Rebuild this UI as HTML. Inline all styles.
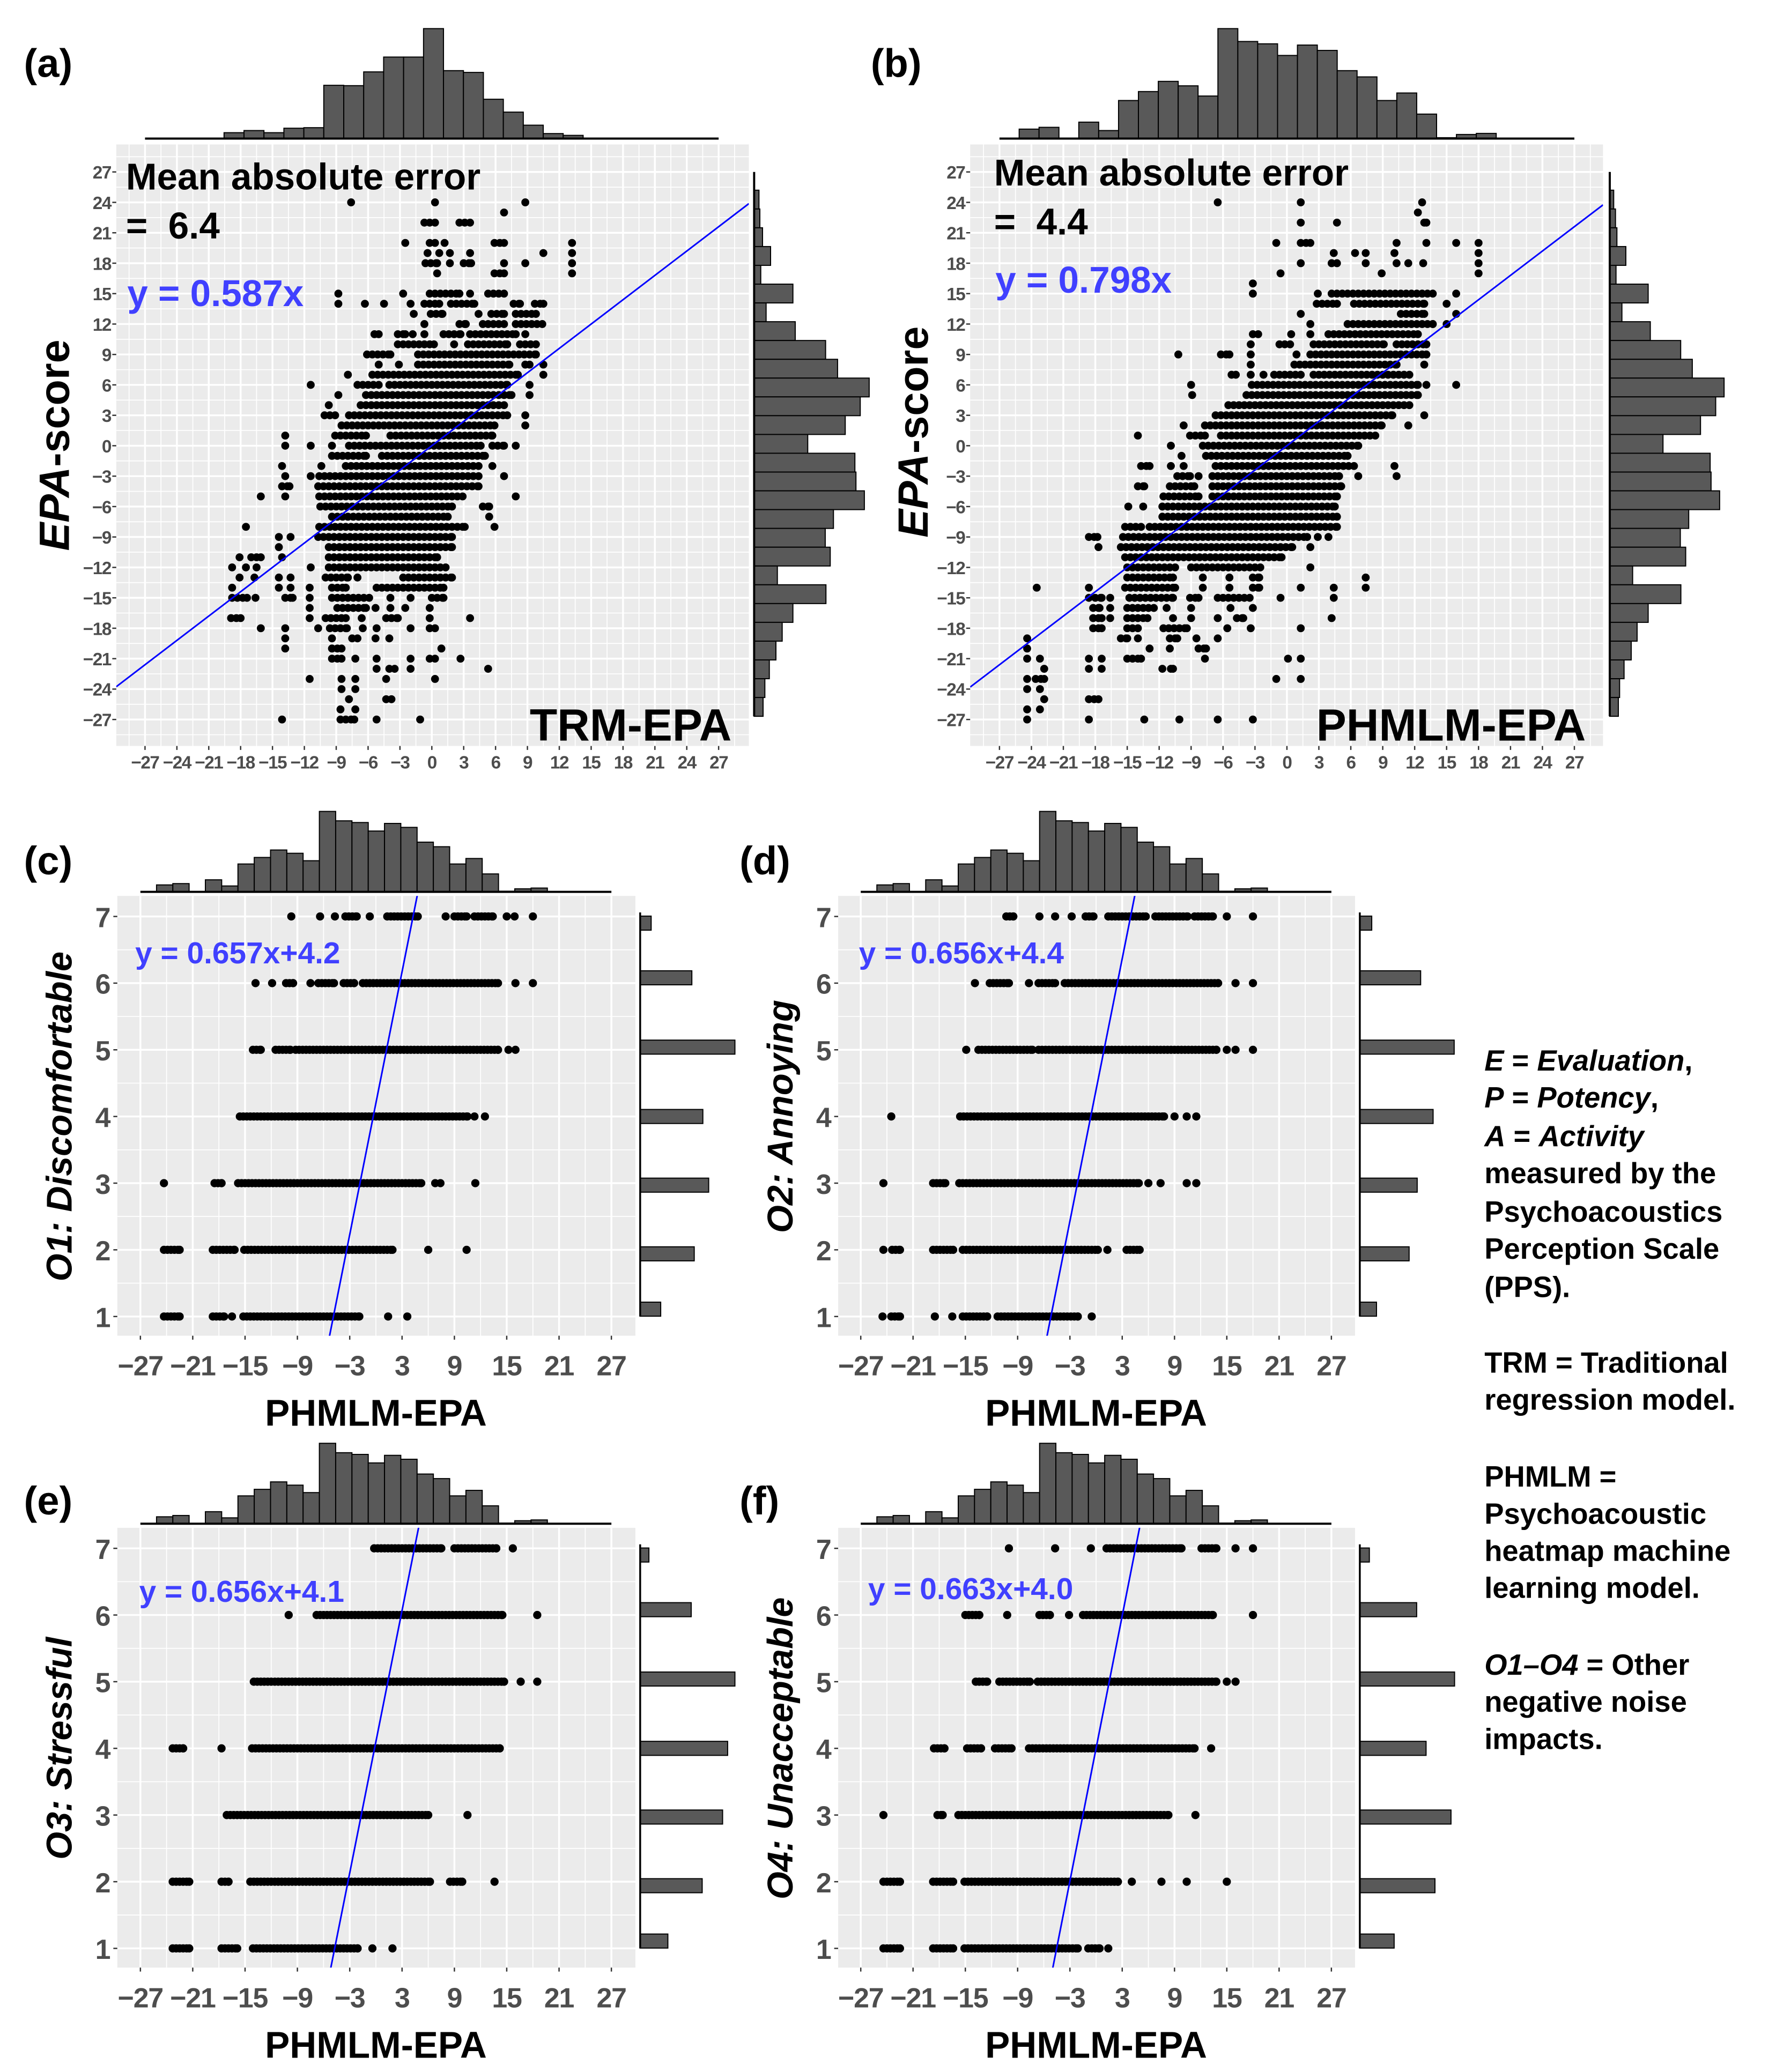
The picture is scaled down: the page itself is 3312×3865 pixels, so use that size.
<!DOCTYPE html>
<html><head><meta charset="utf-8">
<style>
html,body{margin:0;padding:0;background:#fff;}
svg{display:block;font-family:"Liberation Sans",Arial,sans-serif;}
</style></head>
<body>
<svg id="fig" xmlns="http://www.w3.org/2000/svg" width="3312" height="3865" viewBox="0 0 1340 1563.8"></svg>
<script>
// ===== DATA =====
const rowsA = [
[24,[[-7.6],[0.3],[8.8]]],[23,[[6.8]]],[22,[[-0.7,0.3],[2.6,3.6]]],
[20,[[-2.5],[-0.2,0.3],[1.2],[5.9,6.8],[13.2]]],[19,[[-0.4],[0.7],[1.7],[3.6],[10.5],[13.2]]],
[18,[[-0.6,0.5],[1.7],[3,3.7],[6.8],[8.8],[13.2]]],[17,[[0.5],[5.9,6.8],[13.2]]],
[15,[[-8.8],[-2.7],[-0.2,2.6],[3.6],[5.3,6.8]]],
[14,[[-8.8],[-6.3],[-4.5],[-2],[-0.7,0.7],[1.8,4],[7.7,8.3],[9.7,10.5]]],
[13,[[-1.7],[-0.1,1],[4.4],[5.6,6.8],[7.9,9.8]]],
[12,[[-0.7],[2.6,3.2],[4.8,6.8],[7.9,10.4]]],
[11,[[-5.4,-5],[-3.2,-2.5],[-1.8],[-0.7],[1.1,2.7],[3.6,7.9],[8.8]]],
[10,[[-3.2,0.2],[2.1],[3.4,7.1],[8.3,9.8]]],
[9,[[-6.1,-3.9],[-1.3,9.8]]],
[8,[[-5],[-3.1],[-1.3,7.3],[8.8,9.2],[10.5]]],
[7,[[-7.9],[-5.6,8.1],[10.5]]],
[6,[[-11.4],[-7,-5],[-4,7.1],[9.2]]],
[5,[[-8.8],[-6.2,7.5],[9.2]]],
[4,[[-9.7],[-6.7,6.8]]],
[3,[[-10.1,-9.1],[-7.8,7.1],[8.8]]],
[2,[[-8.5,5.9],[8.8]]],
[1,[[-13.8],[-9.1,-6.2],[-3.9,5.7]]],
[0,[[-13.8],[-11.4],[-9.4],[-7.8,4.6],[5.7,6.8],[7.9]]],
[-1,[[-9.4,-6.2],[-4.7,5]]],
[-2,[[-14.1],[-10.4],[-8.1,4.4],[5.7]]],
[-3,[[-13.8],[-11.4],[-10.6,4.4],[6.8]]],
[-4,[[-14.1,-13.4],[-10.7,4.4]]],
[-5,[[-16.1],[-13.8],[-10.6,2.9],[7.9]]],
[-6,[[-10.5,1.9],[4.8,5.4]]],
[-7,[[-9.4,1.5],[5.4]]],
[-8,[[-17.5],[-10.6,3.1],[5.9]]],
[-9,[[-14.4],[-13.3],[-10.7,1.9]]],
[-10,[[-14.4],[-9.7,1.9]]],
[-11,[[-18.1],[-17,-16.1],[-14.1],[-9.7,0.5]]],
[-12,[[-18.8],[-17.5],[-16.5],[-11.4],[-9.7,1.3]]],
[-13,[[-18.1],[-16.7],[-14.4],[-13.3],[-10,-7.9],[-7],[-2.7,1.9]]],
[-14,[[-18.8],[-14.4],[-13.3],[-11.5],[-9.4,-8.1],[-5.2,1.1]]],
[-15,[[-18.8,-17.4],[-16.6],[-13.8,-13.1],[-11.5],[-9.4,-5.9],[-3.9],[-2],[0,1.1]]],
[-16,[[-11.5],[-8.9,-6.2],[-5.3],[-3.9],[-2.5],[-0.2]]],
[-17,[[-18.9,-18],[-11.5],[-10,-8.1],[-6.6],[-4.3,-3.2],[-0.2],[3.6]]],
[-18,[[-16.1],[-13.8],[-10.7],[-9.6,-8],[-6.5],[-5.2],[-2],[-0.2,0.3]]],
[-19,[[-13.8],[-9.4],[-7.5,-7],[-5.3],[-4]]],
[-20,[[-13.8],[-9.4,-8.5],[0.9]]],
[-21,[[-9.4,-8.5],[-7.2],[-5.2],[-2],[-0.2,0.3],[2.7]]],
[-22,[[-5.2],[-4,-3.5],[-2],[5.3]]],
[-23,[[-11.5],[-8.5],[-7.2],[-4.3],[0.3]]],
[-24,[[-8.5],[-7.2]]],
[-25,[[-7.8],[-4.3,-3.8]]],
[-26,[[-8.6],[-7.2]]],
[-27,[[-14.1],[-8.6,-7.3],[-5.2],[-1.1]]]
];
const rowsB = [
[24,[[-6.5],[1.3],[12.7]]],[23,[[12.3]]],[22,[[1.3],[4.7],[12.9,13.1]]],
[20,[[-1],[1.3,2.2],[10.3],[13.1],[15.9],[18]]],
[19,[[4.4],[6.4],[7.4],[10.1],[18]]],
[18,[[1.3],[4.2,4.7],[7.4],[10.3],[11.4],[12.8],[18]]],
[17,[[-0.6],[8.9],[18]]],[16,[[-3.2]]],
[15,[[-3.2],[2.9],[4.2,13.7],[15.9]]],
[14,[[2.8,4.7],[6.3,12.9],[15]]],
[13,[[1.3],[10.7,12.9],[15.9]]],
[12,[[2.2],[5.7,13.7],[15]]],
[11,[[-3.2,-2.7],[0.4],[2.2],[3.9,12.3]]],
[10,[[-3.4],[-0.7,0.3],[2.5,9.1],[10.3,13.1]]],
[9,[[-10.2],[-6.2,-5.4],[-3.4],[0.9],[2.2,13.1]]],
[8,[[-3.4],[0.7,10.3],[12.9]]],
[7,[[-5.2,-4.8],[-3.4],[-2.2],[-1.2,1.3],[2.5,11.5]]],
[6,[[-9],[-3.3,12.3],[13.1],[15.9]]],
[5,[[-8.9],[-3.8,12.3]]],
[4,[[-5.5,11.5]]],
[3,[[-6.7,9.9],[12.9]]],
[2,[[-9.7],[-7.7,8.9],[11.4]]],
[1,[[-14],[-9.1,-7.7],[-6.2,8.3]]],
[0,[[-10.9],[-7.9,6.7]]],
[-1,[[-9.9],[-7.6,5.7]]],
[-2,[[-13.7,-12.9],[-10.9],[-9.7],[-6.7,6.3],[10.1]]],
[-3,[[-10.3,-9.1],[-8.3],[-7,4.9],[6.7],[10.3]]],
[-4,[[-14,-13.4],[-11,-8.7],[-7,5.1]]],
[-5,[[-11.6,-8.3],[-7,4.7]]],
[-6,[[-14.9],[-13.5],[-11.7,4.5]]],
[-7,[[-11.7,4.7]]],
[-8,[[-15.2,-13.7],[-12.9,4.7]]],
[-9,[[-18.6,-17.8],[-15.4,1.9],[2.9],[3.9]]],
[-10,[[-17.7],[-15.6,0.5],[2.2]]],
[-11,[[-15.2,-0.5]]],
[-12,[[-15,-10.5],[-9,-2.5],[2.2]]],
[-13,[[-15,-10.7],[-7.9],[-5.4],[-3.2,-2.6],[7.4]]],
[-14,[[-23.5],[-18.6],[-15.2,-10.5],[-7.9],[-5.4],[-3.2,-2.6],[1.3],[4.4],[7.4]]],
[-15,[[-18.6],[-18,-17.4],[-16.6],[-14.8,-10.7],[-9.1,-8.3],[-6.5,-3.5],[-0.6],[4.4]]],
[-16,[[-18.2,-17.6],[-16.6],[-15,-12.5],[-11.3],[-9],[-5.3],[-3.2]]],
[-17,[[-18.2,-17.4],[-16.6],[-15,-13.1],[-10.7],[-9],[-6.5],[-4.7,-4.1],[4.2]]],
[-18,[[-18.2,-17.4],[-15,-14],[-11.6,-9.4],[-5.6],[-3.4],[1.3]]],
[-19,[[-24.4],[-15.6,-15],[-14],[-11,-10.3],[-8.5],[-6.5]]],
[-20,[[-24.4],[-12.9],[-11],[-8.3,-7.6]]],
[-21,[[-24.4],[-23.2],[-18.6],[-17.4],[-15,-13.7],[-7.7],[0.1],[1.3]]],
[-22,[[-22.8],[-18.6],[-17.4],[-11.7],[-10.9,-10.7]]],
[-23,[[-24.4],[-23.6,-22.8],[-1],[1.3]]],
[-24,[[-24.4],[-23.2]]],
[-25,[[-22.8],[-18.6,-17.7]]],
[-26,[[-24.4],[-23.2]]],
[-27,[[-24.4],[-18.6],[-13.4],[-10.1],[-6.5],[-3.2]]]
];
const topCountsA = [33,45,33,58,61,298,296,373,456,456,615,380,370,220,148,75,28,18];
const topStartA = -19.56, topBinA = 1.878;
const topCountsB = [53,63,0,92,45,213,263,320,295,238,615,543,530,465,523,493,380,345,213,255,137,5,23,29];
const topStartB = -25.15, topBinB = 1.867;
const rightCountsA = [27,32,47,92,37,217,67,230,400,467,644,594,510,300,564,570,617,444,398,426,130,402,217,157,122,85,60,50];
const rightCountsB = [22,32,40,90,35,215,68,227,397,462,640,593,508,298,562,567,615,442,395,425,128,398,215,153,120,80,55,48];
const rightTopEdge = 25.2, rightBin = 1.853;
const slopeA = 0.8, slopeB = 0.8;
const eqA = "y = 0.587x", eqB = "y = 0.798x";
const maeA = "6.4", maeB = "4.4";
const levels = [7,6,5,4,3,2,1];
const levelCenters = [6.9,6.08,5.04,4.0,2.97,1.94,1.11];
const rowsC = [
[7,[[-9.7],[-6.4],[-4.7],[-3.5,-2.2],[-0.7],[1.3,4.8],[8],[9,10.4],[11.3,13.4],[15],[15.9],[18]]],
[6,[[-13.8],[-11.9],[-10.3,-9.5],[-7.5],[-6.6,-4.8],[-3.7,-2.5],[-1.5,14],[16],[18]]],
[5,[[-14.1,-13.2],[-11.5,-9.8],[-9.2,14],[15.2],[16]]],
[4,[[-15.6,10.5],[11.3],[12.5]]],
[3,[[-24.3],[-18.5,-17.7],[-15.8,5.2],[6.8],[7.4],[11.4]]],
[2,[[-24.3,-22.5],[-18.7,-16.2],[-15.1,1.9],[6],[10.4]]],
[1,[[-24.3,-22.5],[-18.7,-17.4],[-16.5],[-15.2,-1.9],[1.4],[3.6]]]
];
const rowsD = [
[7,[[-10.3,-9.5],[-6.5],[-4.7],[-2.8],[-1.2,-0.3],[1.4,5.7],[6.8,10.5],[11.3,13.4],[15],[18]]],
[6,[[-13.9],[-12.2,-10],[-7.7],[-6.6,-4.7],[-3.6,14],[16],[18]]],
[5,[[-14.9],[-13.5,-7.3],[-6.6,13.8],[15],[16],[18]]],
[4,[[-23.5],[-15.6,7.8],[9],[10.4],[11.5]]],
[3,[[-24.4],[-18.7,-17.3],[-15.7,4.9],[6],[7.4],[10.4],[11.5]]],
[2,[[-24.4],[-23.4,-22.5],[-18.7,-16.4],[-15.3,0.2],[1.3],[3.5,5]]],
[1,[[-24.5],[-23.5,-22.5],[-18.5],[-16.5],[-15.3,-12.5],[-11.3,-2.1],[-0.5]]]
];
const rowsE = [
[7,[[-0.2,7.5],[9,13.8],[15.7]]],
[6,[[-10],[-6.8,14.5],[18.5]]],
[5,[[-14,14.7],[16.6],[18.5]]],
[4,[[-23.3,-22.1],[-17.7],[-14.2,14.2]]],
[3,[[-17.1,6],[10.5]]],
[2,[[-23.3,-21.4],[-17.7,-16.9],[-14.4,6.2],[8.5,9.9],[13.6]]],
[1,[[-23.3,-21.4],[-17.7,-15.9],[-14.1,-2.1],[-0.4],[1.9]]]
];
const rowsF = [
[7,[[-10],[-4.7],[-0.6],[1.2,9.8],[12.1,13.8],[16],[18]]],
[6,[[-15,-13.4],[-10.2],[-6.5,-5.3],[-3.1],[-1.5,13.4],[18]]],
[5,[[-13.8,-12.5],[-11.1,-7.6],[-6.7,13.8],[15],[16]]],
[4,[[-18.6,-17.4],[-14.8,-13.2],[-11.6,-9.7],[-7.7,11.3],[13.2]]],
[3,[[-24.4],[-18.2,-17.6],[-15.8,8.3],[11.4]]],
[2,[[-24.4,-22.5],[-18.7,-16.4],[-15.1,2.5],[4.1],[7.5],[10.4],[15]]],
[1,[[-24.4,-22.5],[-18.7,-16.4],[-15.1,-2.1],[-0.9,0.4],[1.4]]]
];
const rightCountsC = [8.3,39,71.5,47.3,51.7,40.8,15.5];
const rightCountsD = [9,45.9,71.2,55.3,43.3,37.2,12.6];
const rightCountsE = [6.6,38.5,71.5,66,62.2,46.8,20.9];
const rightCountsF = [7.2,42.9,71.5,50,68.8,56.7,25.9];
const slopesSub = [0.657,0.656,0.656,0.663];
const interceptsSub = [4.2,4.4,4.1,4.0];
const eqSub = ["y = 0.657x+4.2","y = 0.656x+4.4","y = 0.656x+4.1","y = 0.663x+4.0"];
const mainTicks = [-27,-24,-21,-18,-15,-12,-9,-6,-3,0,3,6,9,12,15,18,21,24,27];
const subXTicks = [-27,-21,-15,-9,-3,3,9,15,21,27];

// ===== DRAWING =====
const NS = 'http://www.w3.org/2000/svg';
const svg = document.getElementById('fig');
function mk(tag, attrs, parent) {
  const e = document.createElementNS(NS, tag);
  for (const k in attrs) e.setAttribute(k, attrs[k]);
  (parent || svg).appendChild(e);
  return e;
}
function lab(v){ return v < 0 ? '\u2212' + Math.abs(v) : String(v); }
let clipId = 0;

function mainPanel(c) {
  const g = mk('g', {});
  
  
  const X = v => c.xz + v * c.xs;
  const Y = v => c.yz - v * c.ys;
  const bg = mk('rect', {x:c.gx0, y:c.gy0, width:c.gx1-c.gx0, height:c.gy1-c.gy0, fill:'#ebebeb'}, g);
  
  
  for (let v = -28.5; v <= 28.6; v += 1.5) {
    const major = Math.abs(v % 3) < 0.01;
    const gl = mk('line', {x1:X(v), x2:X(v), y1:c.gy0, y2:c.gy1, stroke:'#fff', 'stroke-width': major?1.4:0.7}, g);
    
    
    const gh = mk('line', {x1:c.gx0, x2:c.gx1, y1:Y(v), y2:Y(v), stroke:'#fff', 'stroke-width': major?1.4:0.7}, g);
    
    
  }
  mainTicks.forEach(t => {
    mk('line', {x1:X(t), x2:X(t), y1:c.gy1, y2:c.gy1+3, stroke:'#333', 'stroke-width':1}, g);
    const tx = mk('text', {x:X(t), y:c.gy1+17, 'text-anchor':'middle', 'font-size':13.5, 'font-weight':'bold', fill:'#4d4d4d', 'letter-spacing':'-0.6'}, g);
    tx.textContent = lab(t);
    
    
    mk('line', {x1:c.gx0-3, x2:c.gx0, y1:Y(t), y2:Y(t), stroke:'#333', 'stroke-width':1}, g);
    const ty = mk('text', {x:c.gx0-4, y:Y(t)+5, 'text-anchor':'end', 'font-size':13.5, 'font-weight':'bold', fill:'#4d4d4d', 'letter-spacing':'-0.6'}, g);
    ty.textContent = lab(t);
    
    
  });
  c.rows.forEach(r => {
    const yv = r[0];
    r[1].forEach(s => {
      const a = s[0], b = s.length > 1 ? s[1] : s[0];
      for (let xv = a; xv <= b + 0.001; xv += 0.5) {
        const p = mk('circle', {cx:X(Math.min(xv,b)), cy:Y(yv), r:3, fill:'#000'}, g);
        
        
      }
      if (b > a && ((b - a) % 0.5) > 0.01) {
        const p = mk('circle', {cx:X(b), cy:Y(yv), r:3, fill:'#000'}, g);
        
        
      }
    });
  });
  const id = 'clip' + (clipId++);
  const cp = mk('clipPath', {id:id}, g);
  mk('rect', {x:c.gx0, y:c.gy0, width:c.gx1-c.gx0, height:c.gy1-c.gy0}, cp);
  const x0 = (c.gx0 - c.xz)/c.xs, x1 = (c.gx1 - c.xz)/c.xs;
  const ln = mk('line', {x1:X(x0), y1:Y(c.slope*x0), x2:X(x1), y2:Y(c.slope*x1), stroke:'#0000ff', 'stroke-width':1.2, 'clip-path':'url(#'+id+')'}, g);
  
  
  const t1 = mk('text', {x:c.tx, y:c.ty, 'font-size':28, 'font-weight':'bold', fill:'#000'}, g);
  t1.textContent = 'Mean absolute error';
  
  
  const t2 = mk('text', {x:c.tx, y:c.ty+37, 'font-size':28, 'font-weight':'bold', fill:'#000'}, g);
  t2.textContent = '=\u00a0\u00a0' + c.mae;
  
  
  const t3 = mk('text', {x:c.tx+1, y:c.ty+c.eqDy, 'font-size':28, 'font-weight':'bold', fill:'#4040ff'}, g);
  t3.textContent = c.eq;
  
  
  const t4 = mk('text', {x:c.gx1-13, y:c.gy1-4, 'font-size':34, 'font-weight':'bold', fill:'#000', 'text-anchor':'end'}, g);
  t4.textContent = c.model;
  
  
  const kt = 83/615;
  c.top.forEach((n, i) => {
    if (n <= 0) return;
    const b = mk('rect', {x:X(c.topStart + i*c.topBin), y:c.histBase - n*kt, width:c.topBin*c.xs, height:n*kt, fill:'#595959', stroke:'#000', 'stroke-width':0.8}, g);
    
    
  });
  const bl = mk('line', {x1:X(-27), x2:X(27), y1:c.histBase, y2:c.histBase, stroke:'#000', 'stroke-width':1.6}, g);
  
  
  const kr = 86.8/644;
  c.right.forEach((n, i) => {
    const top = rightTopEdge - i*rightBin;
    const b = mk('rect', {x:c.rbase, y:Y(top), width:n*kr, height:rightBin*c.ys, fill:'#595959', stroke:'#000', 'stroke-width':0.8}, g);
    
    
  });
  const rl = mk('line', {x1:c.rbase, x2:c.rbase, y1:129.8, y2:Y(rightTopEdge - c.right.length*rightBin), stroke:'#000', 'stroke-width':1.6}, g);
  
  
  const yt = mk('text', {transform:'translate('+c.ytx+','+c.yty+') rotate(-90)', 'text-anchor':'middle', 'font-size':32, 'font-weight':'bold', fill:'#000'}, g);
  
  
  const ts1 = mk('tspan', {'font-style':'italic'}, yt); ts1.textContent = 'EPA';
  const ts2 = mk('tspan', {}, yt); ts2.textContent = '-score';
}

function subPanel(c) {
  const g = mk('g', {});
  
  
  const X = v => c.xz + v * c.xs;
  const Y = v => c.y1 - (v - 1) * 50.32;
  const bg = mk('rect', {x:c.gx0, y:c.gy0, width:c.gx1-c.gx0, height:c.gy1-c.gy0, fill:'#ebebeb'}, g);
  
  
  for (let v = -30; v <= 30; v += 3) {
    const major = Math.abs((v + 27) % 6) < 0.01;
    if (X(v) < c.gx0 || X(v) > c.gx1) continue;
    const gl = mk('line', {x1:X(v), x2:X(v), y1:c.gy0, y2:c.gy1, stroke:'#fff', 'stroke-width': major?1.4:0.7}, g);
    
    
  }
  for (let v = 0.5; v <= 7.6; v += 0.5) {
    const major = Math.abs(v % 1) < 0.01;
    if (Y(v) < c.gy0 || Y(v) > c.gy1) continue;
    const gh = mk('line', {x1:c.gx0, x2:c.gx1, y1:Y(v), y2:Y(v), stroke:'#fff', 'stroke-width': major?1.4:0.7}, g);
    
    
  }
  subXTicks.forEach(t => {
    mk('line', {x1:X(t), x2:X(t), y1:c.gy1, y2:c.gy1+3, stroke:'#333', 'stroke-width':1}, g);
    const tx = mk('text', {x:X(t), y:c.gy1+30, 'text-anchor':'middle', 'font-size':21, 'font-weight':'bold', fill:'#4d4d4d', 'letter-spacing':'-0.5'}, g);
    tx.textContent = lab(t);
    
    
  });
  levels.forEach(t => {
    mk('line', {x1:c.gx0-3, x2:c.gx0, y1:Y(t), y2:Y(t), stroke:'#333', 'stroke-width':1}, g);
    const ty = mk('text', {x:c.gx0-5, y:Y(t)+8, 'text-anchor':'end', 'font-size':21, 'font-weight':'bold', fill:'#4d4d4d'}, g);
    ty.textContent = String(t);
    
    
  });
  c.rows.forEach(r => {
    const yv = r[0];
    r[1].forEach(s => {
      const a = s[0], b = s.length > 1 ? s[1] : s[0];
      for (let xv = a; xv <= b + 0.001; xv += 0.4) {
        const p = mk('circle', {cx:X(xv), cy:Y(yv), r:3.1, fill:'#000'}, g);
        
        
      }
      if (b > a) {
        const p = mk('circle', {cx:X(b), cy:Y(yv), r:3.1, fill:'#000'}, g);
        
        
      }
    });
  });
  const id = 'clip' + (clipId++);
  const cp = mk('clipPath', {id:id}, g);
  mk('rect', {x:c.gx0, y:c.gy0, width:c.gx1-c.gx0, height:c.gy1-c.gy0}, cp);
  const yA = 0.6, yB = 7.4;
  const xA = (yA - c.b) / c.m, xB = (yB - c.b) / c.m;
  const ln = mk('line', {x1:X(xA), y1:Y(yA), x2:X(xB), y2:Y(yB), stroke:'#0000ff', 'stroke-width':1.2, 'clip-path':'url(#'+id+')'}, g);
  
  
  const eq = mk('text', {x:c.eqx, y:c.eqy, 'font-size':23, 'font-weight':'bold', fill:'#4040ff'}, g);
  eq.textContent = c.eq;
  
  
  const kt = 60.7/615;
  topCountsB.forEach((n, i) => {
    if (n <= 0) return;
    const b = mk('rect', {x:X(topStartB + i*topBinB), y:c.hb - n*kt, width:topBinB*c.xs, height:n*kt, fill:'#595959', stroke:'#000', 'stroke-width':0.8}, g);
    
    
  });
  const bl = mk('line', {x1:X(-27), x2:X(27), y1:c.hb, y2:c.hb, stroke:'#000', 'stroke-width':1.6}, g);
  
  
  c.right.forEach((n, i) => {
    const cy = Y(levelCenters[i]);
    const b = mk('rect', {x:c.rb, y:cy-5.3, width:n, height:10.6, fill:'#595959', stroke:'#000', 'stroke-width':0.8}, g);
    
    
  });
  const rl = mk('line', {x1:c.rb, x2:c.rb, y1:Y(7.06), y2:Y(1.0), stroke:'#000', 'stroke-width':1.4}, g);
  
  
  const xt = mk('text', {x:(X(-27)+X(27))/2, y:c.gy1+68, 'text-anchor':'middle', 'font-size':28, 'font-weight':'bold', fill:'#000'}, g);
  xt.textContent = 'PHMLM-EPA';
  
  
  const yt = mk('text', {transform:'translate('+c.ytx+','+Y(4)+') rotate(-90)', 'text-anchor':'middle', 'font-size':27, 'font-weight':'bold', 'font-style':'italic', fill:'#000'}, g);
  yt.textContent = c.ytitle;
  
  
}

mainPanel({name:'panel-a', rows:rowsA, gx0:87.7, gx1:565, gy0:109, gy1:563, xz:325.8, xs:8.015, yz:336.4, ys:7.653,
  slope:slopeA, mae:maeA, eq:eqA, model:'TRM-EPA', tx:95, ty:143, eqDy:88,
  top:topCountsA, topStart:topStartA, topBin:topBinA, histBase:104.6,
  right:rightCountsA, rbase:569, ytx:52, yty:336});
mainPanel({name:'panel-b', rows:rowsB, gx0:732, gx1:1209.5, gy0:109, gy1:563, xz:971, xs:8.033, yz:336.4, ys:7.653,
  slope:slopeB, mae:maeB, eq:eqB, model:'PHMLM-EPA', tx:750, ty:140, eqDy:81,
  top:topCountsB, topStart:topStartB, topBin:topBinB, histBase:104.6,
  right:rightCountsB, rbase:1214.6, ytx:700, yty:326});

const subCfg = [
 {name:'panel-c', rows:rowsC, right:rightCountsC, gx0:88.5, gx1:479.4, xz:283.6, xs:6.581, y1:993.6, rb:483, eqx:102, eqy:727, ytx:54, ytitle:'O1: Discomfortable'},
 {name:'panel-d', rows:rowsD, right:rightCountsD, gx0:632.4, gx1:1022.4, xz:827, xs:6.576, y1:993.6, rb:1026, eqx:648, eqy:727, ytx:598, ytitle:'O2: Annoying'},
 {name:'panel-e', rows:rowsE, right:rightCountsE, gx0:88.5, gx1:479.4, xz:283.6, xs:6.581, y1:1470.5, rb:483, eqx:105, eqy:1209, ytx:54, ytitle:'O3: Stressful'},
 {name:'panel-f', rows:rowsF, right:rightCountsF, gx0:632.4, gx1:1022.4, xz:827, xs:6.576, y1:1470.5, rb:1026, eqx:655, eqy:1207, ytx:598, ytitle:'O4: Unacceptable'}
];
subCfg.forEach((c, i) => {
  c.gy0 = c.y1 - 317.4; c.gy1 = c.y1 + 14.5; c.hb = c.y1 - 320.5;
  c.m = slopesSub[i]; c.b = interceptsSub[i]; c.eq = eqSub[i];
  subPanel(c);
});

[['(a)',18,58],['(b)',657,58],['(c)',18,660],['(d)',558,660],['(e)',18,1143],['(f)',558,1143]].forEach(p => {
  const t = mk('text', {x:p[1], y:p[2], 'font-size':30, 'font-weight':'bold', fill:'#000'});
  t.textContent = p[0];
  
  
});

const notes = [
 [[['E',1],[' = ',0],['Evaluation',1],[',',0]],808],
 [[['P',1],[' = ',0],['Potency',1],[',',0]],836],
 [[['A',1],[' = ',0],['Activity',1]],865],
 [[['measured by the',0]],893],
 [[['Psychoacoustics',0]],922],
 [[['Perception Scale',0]],950],
 [[['(PPS).',0]],979],
 [[['TRM = Traditional',0]],1036],
 [[['regression model.',0]],1064],
 [[['PHMLM =',0]],1122],
 [[['Psychoacoustic',0]],1150],
 [[['heatmap machine',0]],1178],
 [[['learning model.',0]],1206],
 [[['O1\u2013O4',1],[' = Other',0]],1264],
 [[['negative noise',0]],1292],
 [[['impacts.',0]],1320]
];
const ng = mk('g', {});


notes.forEach(n => {
  const t = mk('text', {x:1120, y:n[1], 'font-size':22, 'font-weight':'bold', fill:'#000', style:'white-space:pre'}, ng);
  
  
  n[0].forEach(s => {
    const ts = mk('tspan', s[1] ? {'font-style':'italic'} : {}, t);
    ts.textContent = s[0];
  });
});
</script>
</body></html>
